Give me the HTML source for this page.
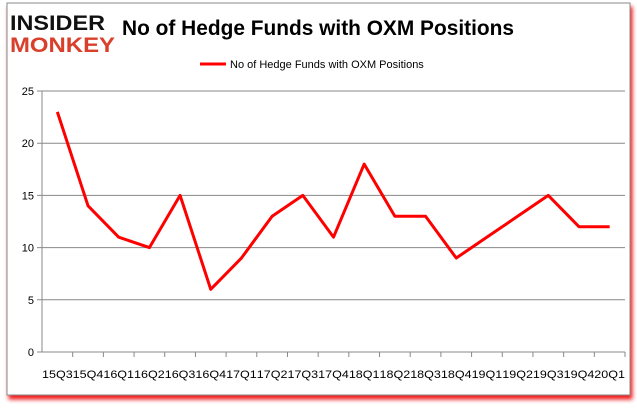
<!DOCTYPE html>
<html><head><meta charset="utf-8"><style>
body{margin:0;background:#fff;width:637px;height:408px;overflow:hidden;font-family:"Liberation Sans",sans-serif}
</style></head><body>
<svg width="637" height="408">
<defs><filter id="sh" x="-5%" y="-5%" width="110%" height="115%"><feDropShadow dx="2" dy="4" stdDeviation="2" flood-color="#e00" flood-opacity="0.9"/></filter></defs>
<rect x="7" y="3" width="623" height="392" fill="#fff" stroke="#888" filter="url(#sh)"/>
<g>
<text x="10" y="30" font-size="21" font-weight="bold" fill="#111" textLength="95" lengthAdjust="spacingAndGlyphs">INSIDER</text>
<text x="10" y="52" font-size="21" font-weight="bold" fill="#d9402b" textLength="105" lengthAdjust="spacingAndGlyphs">MONKEY</text>
</g>
<text x="122" y="35" font-size="21" font-weight="bold" fill="#000" textLength="392" lengthAdjust="spacingAndGlyphs">No of Hedge Funds with OXM Positions</text>
<g>
<line x1="200" y1="64" x2="226" y2="64" stroke="#f00" stroke-width="3"/>
<text x="230" y="68" font-size="11" fill="#000">No of Hedge Funds with OXM Positions</text>
</g>
<g id="axes"></g>
<g id="plot"></g>
</svg>
<script>
const categories=["15Q3","15Q4","16Q1","16Q2","16Q3","16Q4","17Q1","17Q2","17Q3","17Q4","18Q1","18Q2","18Q3","18Q4","19Q1","19Q2","19Q3","19Q4","20Q1"];
const values=[23,14,11,10,15,6,9,13,15,11,18,13,13,9,11,13,15,12,12];
const yTicks=[0,5,10,15,20,25];
const X0=42,X1=625,Y0=352,Y1=91,YMAX=25;
const step=(X1-X0)/categories.length;
const xs=i=>X0+step*(i+0.5);
const ys=v=>Y0-(Y0-Y1)*v/YMAX;
const NS="http://www.w3.org/2000/svg";
const axes=document.getElementById('axes'),plot=document.getElementById('plot');
function mk(t,a,p){const e=document.createElementNS(NS,t);for(const k in a)e.setAttribute(k,a[k]);p.appendChild(e);return e;}
yTicks.forEach(v=>{
 const l=mk('line',{x1:X0-5,x2:X1,y1:ys(v),y2:ys(v),stroke:v===0?'#888':'#888','stroke-width':1},axes);
 
 
 const t=mk('text',{x:X0-8,y:ys(v)+4,'text-anchor':'end','font-size':11},axes);t.textContent=v;
 
 
});
const ya=mk('line',{x1:X0,x2:X0,y1:Y1,y2:Y0,stroke:'#888'},axes);


categories.forEach((c,i)=>{
 const tk=mk('line',{x1:X0+step*(i+1),x2:X0+step*(i+1),y1:Y0,y2:Y0+5,stroke:'#888'},axes);
 
 
 const t=mk('text',{x:xs(i),y:378,'text-anchor':'middle','font-size':11,textLength:step,lengthAdjust:'spacingAndGlyphs'},axes);t.textContent=c;
 
 
});
const p=mk('polyline',{points:values.map((v,i)=>xs(i)+','+ys(v)).join(' '),fill:'none',stroke:'#f00','stroke-width':3,'stroke-linejoin':'round'},plot);


</script>
</body></html>
